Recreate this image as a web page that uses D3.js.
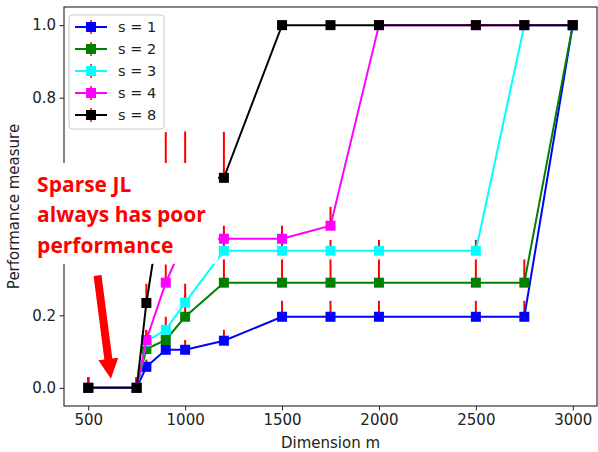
<!DOCTYPE html>
<html>
<head>
<meta charset="utf-8">
<script src="https://cdn.jsdelivr.net/npm/d3@7"></script>
<style>
  body { margin: 0; background: #fff; }
  text { font-family: "DejaVu Sans", sans-serif; }
</style>
</head>
<body>
<svg id="chart" width="598" height="452"></svg>
<script>
// data
const dims = [500, 750, 800, 900, 1000, 1200, 1500, 1750, 2000, 2500, 2750, 3000];

const s1 = [0, 0, 0.058, 0.105, 0.105, 0.13, 0.196, 0.196, 0.196, 0.196, 0.196, 1.0];
const s1Err = [0.03, 0.03, 0.02, 0.03, 0.027, 0.03, 0.044, 0.044, 0.044, 0.044, 0.044, 0];
const s2 = [0, 0, 0.107, 0.132, 0.196, 0.29, 0.29, 0.29, 0.29, 0.29, 0.29, 1.0];
const s2Err = [0.03, 0.03, 0.03, 0.04, 0.06, 0.064, 0.064, 0.064, 0.064, 0.064, 0.064, 0];
const s3 = [0, 0, 0.128, 0.16, 0.235, 0.378, 0.378, 0.378, 0.378, 0.378, 1.0, 1.0];
const s3Err = [0.03, 0.03, 0.03, 0.036, 0.052, 0.03, 0.03, 0.03, 0.03, 0.03, 0, 0];
const s4 = [0, 0, 0.132, 0.29, 0.41, 0.411, 0.411, 0.447, 1.0, 1.0, 1.0, 1.0];
const s4Err = [0.03, 0.03, 0.028, 0.05, 0.04, 0.036, 0.036, 0.052, 0, 0, 0, 0];
const s8 = [0, 0, 0.234, 0.575, 0.58, 0.579, 1.0, 1.0, 1.0, 1.0, 1.0, 1.0];
const s8Err = [0.03, 0.03, 0.053, 0.13, 0.127, 0.127, 0, 0, 0, 0, 0, 0];

const seriesLabels = ["s = 1", "s = 2", "s = 3", "s = 4", "s = 8"];
const seriesColors = ["#0000ff", "#008000", "#00ffff", "#ff00ff", "#000000"];

const xTicks = [500, 1000, 1500, 2000, 2500, 3000];
const yTicks = [0, 0.2, 0.4, 0.6, 0.8, 1.0];

const noteLines = ["Sparse JL", "always has poor", "performance"];
// annotation placement, in data units
const noteBox = { x0: 200, x1: 1170, y0: 0.62, y1: 0.342 };
const arrowFrom = [548, 0.31];
const arrowTo = [617, 0.025];

const allErr = [s1Err, s2Err, s3Err, s4Err, s8Err];
const series = [s1, s2, s3, s4, s8].map((vals, i) => ({
  label: seriesLabels[i],
  color: seriesColors[i],
  points: vals.map((v, j) => ({ x: dims[j], y: v, e: allErr[i][j] }))
}));

const svg = d3.select("#chart");
const margin = { top: 7, right: 1, bottom: 46, left: 64 };
const width = 598 - margin.left - margin.right,
      height = 452 - margin.top - margin.bottom;

const x = d3.scaleLinear().domain([375, 3125]).range([0, width]);
const y = d3.scaleLinear().domain([-0.05, 1.05]).range([height, 0]);

const g = svg.append("g").attr("transform", `translate(${margin.left},${margin.top})`);

// axes
const xAxis = d3.axisBottom(x).tickValues(xTicks).tickSize(4.5).tickPadding(3.5).tickFormat(d3.format("d"));
const yAxis = d3.axisLeft(y).tickValues(yTicks).tickSize(4.5).tickPadding(3.5).tickFormat(d3.format(".1f"));

const gx = g.append("g").attr("transform", `translate(0,${height})`).call(xAxis);
const gy = g.append("g").call(yAxis);
[gx, gy].forEach(a => {
  a.select(".domain").remove();
  a.selectAll(".tick line").attr("stroke", "#222").attr("stroke-width", 1);
  a.selectAll(".tick text").attr("fill", "#222").style("font-size", "15px");
});
// labels 0.4 and 0.6 sit under the white note box in the original
gy.selectAll(".tick text")
  .attr("opacity", d => (d < noteBox.y0 && d > noteBox.y1) ? 0 : 1);

g.append("text")
  .attr("x", width / 2).attr("y", height + 42)
  .attr("text-anchor", "middle").attr("fill", "#222")
  .style("font-size", "15px").text("Dimension m");

g.append("text")
  .attr("transform", `translate(${-45},${height / 2}) rotate(-90)`)
  .attr("text-anchor", "middle").attr("fill", "#222")
  .style("font-size", "15px").text("Performance measure");

// error bars (upper only)
series.forEach(s => {
  g.append("g").selectAll("line")
    .data(s.points.filter(p => p.e > 0))
    .enter().append("line")
    .attr("x1", p => x(p.x)).attr("x2", p => x(p.x))
    .attr("y1", p => y(p.y)).attr("y2", p => y(p.y + p.e))
    .attr("stroke", "#ff0000").attr("stroke-width", 2);
});

// lines and markers
const line = d3.line().x(p => x(p.x)).y(p => y(p.y));
const ms = 10;
series.forEach(s => {
  g.append("path")
    .attr("d", line(s.points))
    .attr("fill", "none").attr("stroke", s.color).attr("stroke-width", 2);
  g.append("g").selectAll("rect")
    .data(s.points)
    .enter().append("rect")
    .attr("x", p => x(p.x) - ms / 2).attr("y", p => y(p.y) - ms / 2)
    .attr("width", ms).attr("height", ms)
    .attr("fill", s.color);
});

// frame
g.append("rect")
  .attr("width", width).attr("height", height)
  .attr("fill", "none").attr("stroke", "#222").attr("stroke-width", 1.1);

// legend
const leg = g.append("g").attr("transform", "translate(5,8)");
leg.append("rect")
  .attr("width", 95).attr("height", 114).attr("rx", 3)
  .attr("fill", "#fff").attr("fill-opacity", 0.8)
  .attr("stroke", "#ccc").attr("stroke-width", 1);
series.forEach((s, i) => {
  const row = leg.append("g").attr("transform", `translate(0,${12 + i * 22})`);
  row.append("line").attr("x1", 6).attr("x2", 38).attr("stroke", s.color).attr("stroke-width", 2);
  row.append("line").attr("x1", 22).attr("x2", 22).attr("y1", -7).attr("y2", 7)
    .attr("stroke", "#ff0000").attr("stroke-width", 1.5);
  row.append("rect").attr("x", 22 - ms / 2).attr("y", -ms / 2)
    .attr("width", ms).attr("height", ms).attr("fill", s.color);
  row.append("text").attr("x", 49).attr("y", 5)
    .attr("fill", "#222").style("font-size", "14.5px").text(s.label);
});

// annotation: white box over the plot, red text and arrow on top
const over = svg.append("g").attr("transform", `translate(${margin.left},${margin.top})`);
const bx = x(noteBox.x0), by = y(noteBox.y0);
over.append("rect")
  .attr("x", bx).attr("y", by)
  .attr("width", x(noteBox.x1) - bx).attr("height", y(noteBox.y1) - by)
  .attr("fill", "#fff");

over.append("g").selectAll("text")
  .data(noteLines)
  .enter().append("text")
  .attr("x", bx + 7)
  .attr("y", (d, i) => by + 29 + i * 30.5)
  .attr("fill", "#ff0000")
  .style("font-family", "'Open Sans', sans-serif")
  .style("font-weight", "700")
  .style("font-size", "21px")
  .text(d => d);

const ax0 = x(arrowFrom[0]), ay0 = y(arrowFrom[1]);
const ax1 = x(arrowTo[0]), ay1 = y(arrowTo[1]);
const ang = Math.atan2(ay1 - ay0, ax1 - ax0);
const headLen = 20, headW = 10, shaftW = 4;
const ux = Math.cos(ang), uy = Math.sin(ang), nx = -uy, ny = ux;
const hx = ax1 - ux * headLen, hy = ay1 - uy * headLen;
const arrowPts = [
  [ax0 + nx * shaftW, ay0 + ny * shaftW],
  [hx + nx * shaftW, hy + ny * shaftW],
  [hx + nx * headW, hy + ny * headW],
  [ax1, ay1],
  [hx - nx * headW, hy - ny * headW],
  [hx - nx * shaftW, hy - ny * shaftW],
  [ax0 - nx * shaftW, ay0 - ny * shaftW]
];
over.append("path")
  .attr("d", d3.line()(arrowPts) + "Z")
  .attr("fill", "#ff0000");
</script>
</body>
</html>
